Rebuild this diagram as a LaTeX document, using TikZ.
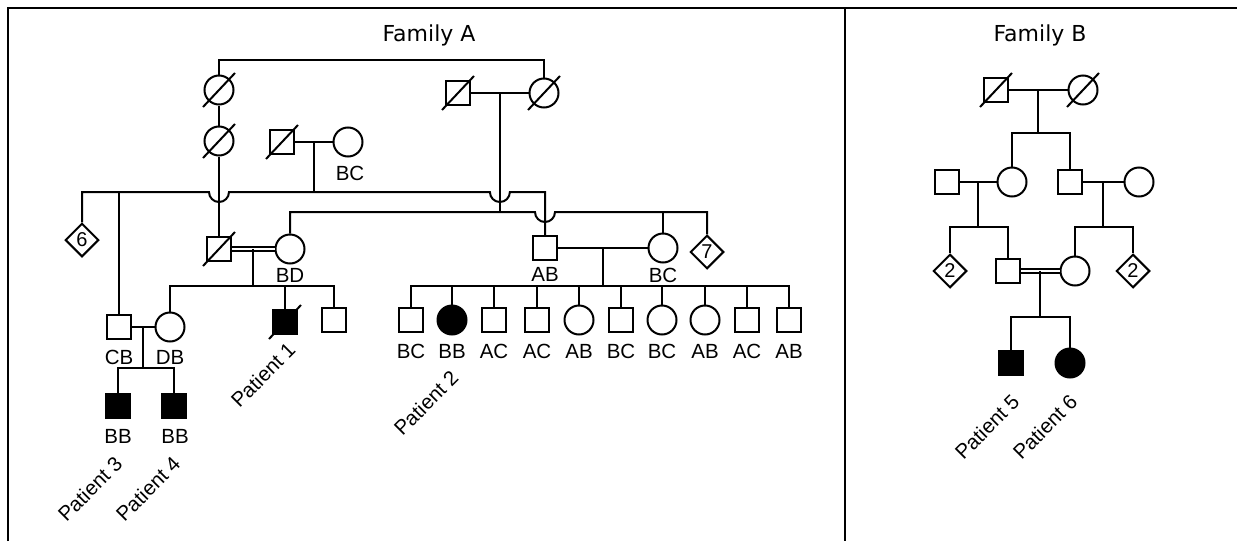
\documentclass[tikz,border=0pt]{standalone}
\usepackage{fontspec}
\setmainfont{Liberation Sans}
\newfontfamily\titlefont{DejaVu Sans}
\usetikzlibrary{shapes.geometric,calc}
\newcommand{\dead}[1]{\draw ($(#1.center)+(-16,17)$) -- ($(#1.center)+(16,-17)$);}
\begin{document}
\begin{tikzpicture}[x=1pt,y=1pt,yscale=-1,line width=2pt,
  sq/.style={draw,rectangle,minimum size=24.5pt,inner sep=0pt},
  ci/.style={draw,circle,minimum size=29pt,inner sep=0pt},
  dm/.style={draw,diamond,aspect=1,minimum size=33.5pt,inner sep=0pt,font=\fontsize{20}{24}\selectfont},
  aff/.style={fill=black},
  lbl/.style={inner sep=0pt,font=\fontsize{20.5}{24}\selectfont},
  pat/.style={lbl,rotate=45},
  ttl/.style={anchor=base,inner sep=0pt,font=\titlefont\fontsize{22}{26}\selectfont},
  frame/.style={line width=2.5pt},
  dbl/.style={double,double distance=2.4pt}]
\useasboundingbox (0,0) rectangle (1237,541);
% frame
\draw[frame] (8,541) -- (8,8) -- (1237,8);
\draw[frame] (845,8) -- (845,541);
% titles
\node[ttl] (tA) at (429,41) {Family A};
\node[ttl] (tB) at (1040,41) {Family B};

% ---------------- Family A ----------------
\node[ci] (a1) at (219,90) {};
\node[ci] (a2) at (219,141) {};
\node[sq] (a3) at (282,142) {};
\node[ci] (a4) at (348,142) {};
\node[sq] (a5) at (458,93) {};
\node[ci] (a6) at (544,93) {};
\node[dm] (d6) at (82,240) {6};
\node[sq] (hb) at (219,249) {};
\node[ci] (bd) at (290,249) {};
\node[sq] (ab) at (545,248) {};
\node[ci] (bcw) at (663,248) {};
\node[dm] (d7) at (707,252) {7};
\node[sq] (cb) at (119,327) {};
\node[ci] (db) at (170,327) {};
\node[sq,aff] (p3) at (118,406) {};
\node[sq,aff] (p4) at (174,406) {};
\node[sq,aff] (p1) at (285,322) {};
\node[sq] (s1) at (334,320) {};
\node[sq] (c1) at (411,320) {};
\node[ci,aff] (c2) at (452,320) {};
\node[sq] (c3) at (494,320) {};
\node[sq] (c4) at (537,320) {};
\node[ci] (c5) at (579,320) {};
\node[sq] (c6) at (621,320) {};
\node[ci] (c7) at (662,320) {};
\node[ci] (c8) at (705,320) {};
\node[sq] (c9) at (747,320) {};
\node[sq] (c10) at (789,320) {};

\dead{a1} \dead{a2} \dead{a3} \dead{a5} \dead{a6} \dead{hb} \dead{p1}

% labels
\node[lbl] (la4) at (350,173) {BC};
\node[lbl] (lbd) at (290,275) {BD};
\node[lbl] (lab) at (545,274) {AB};
\node[lbl] (lbcw) at (663,275) {BC};
\node[lbl] (lcb) at (119,357) {CB};
\node[lbl] (ldb) at (170,357) {DB};
\node[lbl] (lp3) at (118,436) {BB};
\node[lbl] (lp4) at (175,436) {BB};
\foreach \n/\t in {c1/BC,c2/BB,c3/AC,c4/AC,c5/AB,c6/BC,c7/BC,c8/AB,c9/AC,c10/AB}
  \node[lbl] (l\n) at (\n.center |- 0,351) {\t};
\node[pat] (pt1) at (263,375) {Patient 1};
\node[pat] (pt2) at (426,403) {Patient 2};
\node[pat] (pt3) at (90,489) {Patient 3};
\node[pat] (pt4) at (148,489) {Patient 4};

% connectors
\coordinate (T) at (0,60);
\coordinate (L1) at (0,192);
\coordinate (L2) at (0,212);
\coordinate (L3) at (0,286);
\coordinate (L4) at (0,368);
\coordinate (m1) at ($(a3.east)!0.5!(a4.west)$);
\coordinate (m2) at ($(a5.east)!0.5!(a6.west)$);
\coordinate (m3) at ($(hb.east)!0.5!(bd.west)$);
\coordinate (m4) at ($(cb.east)!0.5!(db.west)$);
\coordinate (m5) at ($(ab.east)!0.5!(bcw.west)$);

\draw (a1.north) -- (a1.north |- T) -- (a6.north |- T) -- (a6.north);
\draw (a1.south) -- (a2.north);
\draw (a2.south) -- (hb.north);
\draw (a3.east) -- (a4.west);
\draw (m1) -- (m1 |- L1);
\draw (a5.east) -- (a6.west);
\draw (m2) -- (m2 |- L2);
\draw (d6.north) -- (d6.north |- L1) -- ($(hb.north |- L1)+(-10,0)$)
  arc[start angle=180,end angle=0,radius=10] -- ($(m2 |- L1)+(-10,0)$)
  arc[start angle=180,end angle=0,radius=10] -- (ab.north |- L1) -- (ab.north);
\draw (cb.north) -- (cb.north |- L1);
\draw (bd.north) -- (bd.north |- L2) -- ($(ab.north |- L2)+(-10,0)$)
  arc[start angle=180,end angle=0,radius=10] -- (d7.north |- L2) -- (d7.north);
\draw (bcw.north) -- (bcw.north |- L2);
\draw[dbl] (hb.east) -- (bd.west);
\draw (m3) -- (m3 |- L3);
\draw (db.north) -- (db.north |- L3) -- (s1.north |- L3) -- (s1.north);
\draw (p1.north) -- (p1.north |- L3);
\draw (cb.east) -- (db.west);
\draw (m4) -- (m4 |- L4);
\draw (p3.north) -- (p3.north |- L4) -- (p4.north |- L4) -- (p4.north);
\draw (ab.east) -- (bcw.west);
\draw (m5) -- (m5 |- L3);
\draw (c1.north) -- (c1.north |- L3) -- (c10.north |- L3) -- (c10.north);
\foreach \n in {c2,c3,c4,c5,c6,c7,c8,c9}
  \draw (\n.north) -- (\n.north |- L3);

% ---------------- Family B ----------------
\node[sq] (b1) at (996,90) {};
\node[ci] (b2) at (1083,90) {};
\node[ci] (b3) at (1012,182) {};
\node[sq] (b4) at (1070,182) {};
\node[sq] (b5) at (947,182) {};
\node[ci] (b6) at (1139,182) {};
\node[dm] (e1) at (950,271) {2};
\node[sq] (b7) at (1008,271) {};
\node[ci] (b8) at (1075,271) {};
\node[dm] (e2) at (1133,271) {2};
\node[sq,aff] (p5) at (1011,363) {};
\node[ci,aff] (p6) at (1070,363) {};
\dead{b1} \dead{b2}
\node[pat] (pt5) at (987,427) {Patient 5};
\node[pat] (pt6) at (1045,427) {Patient 6};

\coordinate (K1) at (0,133);
\coordinate (K2) at (0,227);
\coordinate (K3) at (0,317);
\coordinate (n1) at ($(b1.east)!0.5!(b2.west)$);
\coordinate (n2) at ($(b5.east)!0.5!(b3.west)$);
\coordinate (n3) at ($(b4.east)!0.5!(b6.west)$);
\coordinate (n4) at ($(b7.east)!0.5!(b8.west)$);
\draw (b1.east) -- (b2.west);
\draw (n1) -- (n1 |- K1);
\draw (b3.north) -- (b3.north |- K1) -- (b4.north |- K1) -- (b4.north);
\draw (b5.east) -- (b3.west);
\draw (b4.east) -- (b6.west);
\draw (n2) -- (n2 |- K2);
\draw (n3) -- (n3 |- K2);
\draw (e1.north) -- (e1.north |- K2) -- (b7.north |- K2) -- (b7.north);
\draw (b8.north) -- (b8.north |- K2) -- (e2.north |- K2) -- (e2.north);
\draw[dbl] (b7.east) -- (b8.west);
\draw (n4) -- (n4 |- K3);
\draw (p5.north) -- (p5.north |- K3) -- (p6.north |- K3) -- (p6.north);
\end{tikzpicture}
\end{document}
